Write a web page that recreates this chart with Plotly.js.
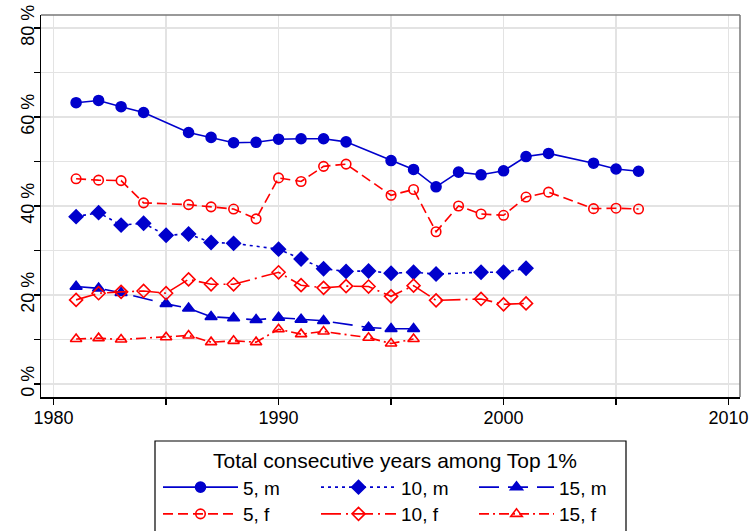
<!DOCTYPE html>
<html>
<head>
<meta charset="utf-8">
<script src="https://cdn.plot.ly/plotly-3.0.1.min.js"></script>
<style>html,body{margin:0;padding:0;background:#fff;}</style>
</head>
<body>
<div id="chart" style="width:751px;height:531px;"></div>
<script>
// ---- data ----
const years5m = [1981,1982,1983,1984,1986,1987,1988,1989,1990,1991,1992,1993,1995,1996,1997,1998,1999,2000,2001,2002,2004,2005,2006];
const vals5m  = [63.2,63.7,62.3,61.0,56.5,55.4,54.2,54.3,55.0,55.1,55.1,54.4,50.2,48.2,44.3,47.6,47.0,47.9,51.1,51.8,49.6,48.3,47.8];

const years5f = [1981,1982,1983,1984,1986,1987,1988,1989,1990,1991,1992,1993,1995,1996,1997,1998,1999,2000,2001,2002,2004,2005,2006];
const vals5f  = [46.1,45.8,45.7,40.7,40.3,39.8,39.3,37.1,46.3,45.5,48.9,49.4,42.4,43.7,34.2,40.0,38.2,37.9,42.0,43.1,39.4,39.5,39.3];

const years10m = [1981,1982,1983,1984,1985,1986,1987,1988,1990,1991,1992,1993,1994,1995,1996,1997,1999,2000,2001];
const vals10m  = [37.6,38.5,35.7,36.1,33.4,33.7,31.8,31.6,30.3,28.1,25.9,25.3,25.4,24.9,25.1,24.7,25.1,25.1,26.0];

const years10f = [1981,1982,1983,1984,1985,1986,1987,1988,1990,1991,1992,1993,1994,1995,1996,1997,1999,2000,2001];
const vals10f  = [18.9,20.4,20.7,20.9,20.4,23.5,22.4,22.4,25.1,22.2,21.6,22.0,21.9,19.7,22.1,18.8,19.1,17.9,18.1];

const years15m = [1981,1982,1983,1985,1986,1987,1988,1989,1990,1991,1992,1994,1995,1996];
const vals15m  = [21.9,21.5,20.5,18.0,17.0,15.1,14.8,14.4,14.9,14.5,14.2,12.7,12.4,12.4];

const years15f = [1981,1982,1983,1985,1986,1987,1988,1989,1990,1991,1992,1994,1995,1996];
const vals15f  = [10.1,10.3,10.0,10.5,10.9,9.4,9.7,9.4,12.3,11.2,11.8,10.4,9.1,10.1];

const seriesNames = ['5, m','10, m','15, m','5, f','10, f','15, f'];
const legendTitle = 'Total consecutive years among Top 1%';

const xTickVals = [1980,1985,1990,1995,2000,2005,2010];
const xTickText = ['1980','','1990','','2000','','2010'];
const yTickVals = [0,10,20,30,40,50,60,70,80];
const yTickText = ['0 %','','20 %','','40 %','','60 %','','80 %'];

// ---- styling ----
const BLUE = '#0000CC', RED = '#FF0000';
function tr(x, y, name, color, dash, symbol, size, legend) {
  return {
    type: 'scatter', mode: 'lines+markers', x: x, y: y, name: name,
    legend: legend,
    line: {color: color, width: 1.6, dash: dash},
    marker: {symbol: symbol, size: size, color: color, line: {color: color, width: 1.6}}
  };
}
const data = [
  tr(years5m,  vals5m,  seriesNames[0], BLUE, 'solid',            'circle',           10,  'legend'),
  tr(years10m, vals10m, seriesNames[1], BLUE, '3px,4px',          'diamond',          10.5,'legend'),
  tr(years15m, vals15m, seriesNames[2], BLUE, '20px,9px',         'triangle-up',      10.5,'legend'),
  tr(years5f,  vals5f,  seriesNames[3], RED,  '10px,5px',         'circle-open',      9.5, 'legend2'),
  tr(years10f, vals10f, seriesNames[4], RED,  '20px,5px,2px,5px', 'diamond-open',     10,  'legend2'),
  tr(years15f, vals15f, seriesNames[5], RED,  '10px,4px,2px,4px', 'triangle-up-open', 10,  'legend2')
];

const W = 751, H = 531, ML = 41, MR = 11, MT = 15, MB = 134;
const PW = W - ML - MR, PH = H - MT - MB;
const px2x = p => (p - ML) / PW;
const px2y = p => (H - MB - p) / PH;

const legCommon = {
  orientation: 'h', xanchor: 'left', yanchor: 'top',
  bgcolor: 'rgba(0,0,0,0)', borderwidth: 0,
  font: {size: 19, color: 'black'},
  itemwidth: 75, entrywidth: 68, traceorder: 'normal'
};

const layout = {
  width: W, height: H,
  margin: {l: ML, r: MR, t: MT, b: MB, pad: 0, autoexpand: false},
  paper_bgcolor: 'white', plot_bgcolor: 'white',
  font: {family: 'Liberation Sans, Arial, sans-serif', color: 'black'},
  showlegend: true,
  xaxis: {
    range: [1979.44, 2010.51], tickmode: 'array', tickvals: xTickVals, ticktext: xTickText,
    ticklabelstandoff: -2,
    showgrid: true, gridcolor: '#e3e3e3', gridwidth: 1.5, zeroline: false,
    showline: true, linecolor: 'black', linewidth: 1.5,
    ticks: 'outside', ticklen: 6, tickwidth: 1.2, tickcolor: 'black',
    tickfont: {size: 18}
  },
  yaxis: {
    range: [-2.92, 82.9], tickmode: 'array', tickvals: yTickVals, ticktext: yTickText,
    tickangle: -90, ticklabelstandoff: -8,
    showgrid: true, gridcolor: '#e3e3e3', gridwidth: 1.5, zeroline: false,
    showline: true, linecolor: 'black', linewidth: 1.5,
    ticks: 'outside', ticklen: 6, tickwidth: 1.2, tickcolor: 'black',
    tickfont: {size: 18}
  },
  legend: Object.assign({}, legCommon, {
    x: px2x(158), y: px2y(441),
    title: {text: legendTitle, side: 'top center', font: {size: 21, color: 'black'}}
  }),
  legend2: Object.assign({}, legCommon, {
    x: px2x(158), y: px2y(495)
  }),
  shapes: [
    {type: 'line', xref: 'paper', yref: 'paper', x0: 0, x1: 1, y0: 1, y1: 1, line: {color: '#777', width: 1.5}},
    {type: 'line', xref: 'paper', yref: 'paper', x0: 1, x1: 1, y0: 0, y1: 1, line: {color: '#777', width: 1.5}},
    {type: 'rect', xref: 'paper', yref: 'paper', x0: px2x(155), x1: px2x(626), y0: px2y(441), y1: px2y(545),
     line: {color: 'black', width: 1.2}, fillcolor: 'rgba(0,0,0,0)'}
  ]
};

Plotly.newPlot('chart', data, layout, {displayModeBar: false, staticPlot: true});
</script>
</body>
</html>
